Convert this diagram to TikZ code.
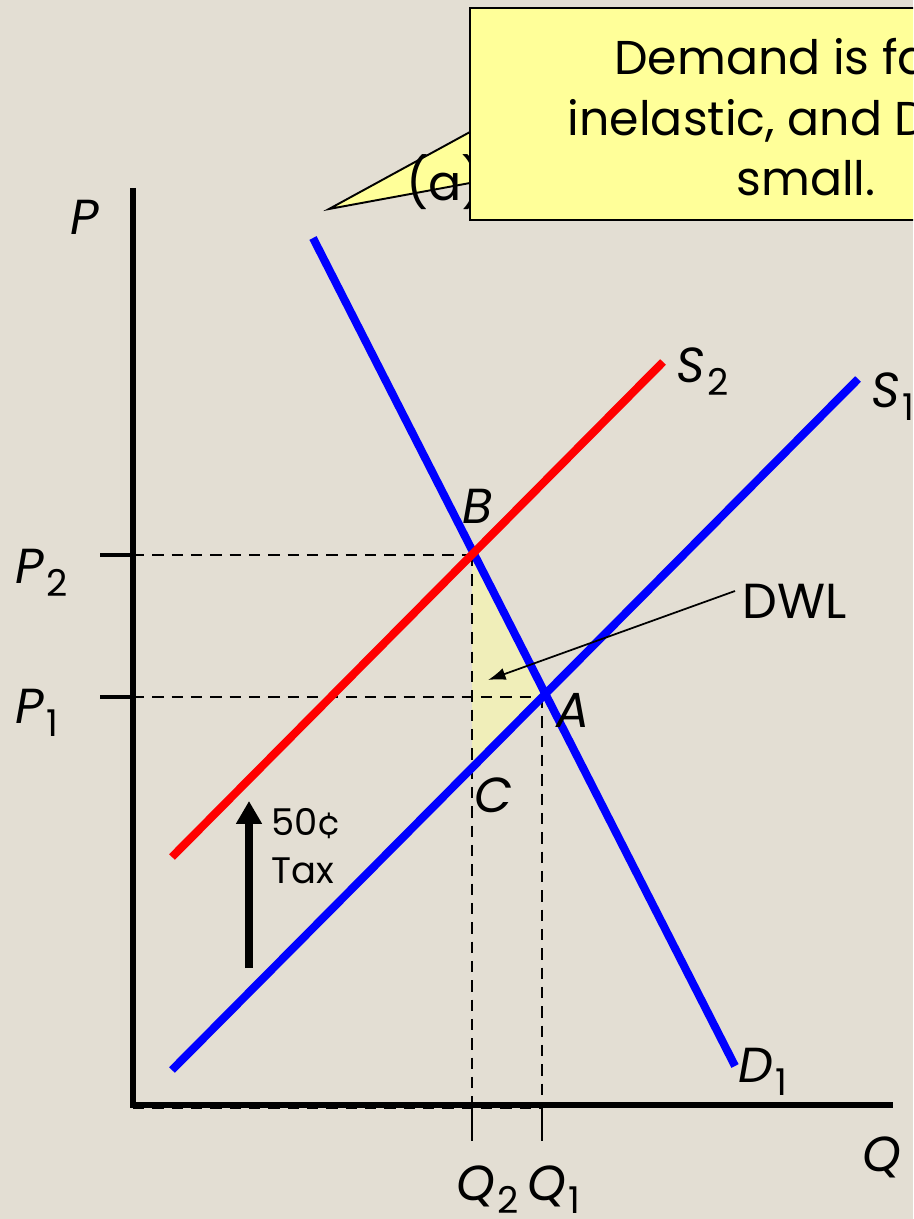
\documentclass[tikz,border=0pt]{standalone}
\usepackage{fontspec}
\setmainfont{Poppins}
\usetikzlibrary{arrows.meta}
\definecolor{bg}{RGB}{227,222,211}
\definecolor{dwl}{RGB}{240,238,185}
\definecolor{callout}{RGB}{255,255,153}
\definecolor{dblue}{RGB}{0,0,255}
\definecolor{dred}{RGB}{255,0,0}
\newcommand\subs[1]{\kern1.5pt\raisebox{-0.28em}{\fontsize{21}{23}\selectfont\upshape #1}}
\begin{document}
\begin{tikzpicture}[x=0.02cm,y=-0.02cm,
  curve/.style={line width=4.6pt},
  axis/.style={line width=3.4pt},
  tickl/.style={line width=2.3pt},
  guide/.style={line width=1.3pt,dash pattern=on 6.5pt off 4.5pt},
  lab/.style={font=\fontsize{28}{32}\selectfont\itshape,anchor=base west,inner sep=0pt},
  rlab/.style={font=\fontsize{28}{32}\selectfont,anchor=base west,inner sep=0pt},
  small/.style={font=\fontsize{21}{24}\selectfont,anchor=base west,inner sep=0pt},
  ctext/.style={font=\fontsize{27}{31}\selectfont,anchor=base,inner sep=0pt}]
\useasboundingbox (0,0) rectangle (913,1219);
\clip (0,0) rectangle (913,1219);
\fill[bg] (0,0) rectangle (913,1219);
% key points
\coordinate (O) at (133,1105);
\coordinate (Ytop) at (133,188);
\coordinate (Xend) at (893,1105);
\coordinate (B) at (472,555);
\coordinate (A) at (542,697);
\coordinate (C) at (472,769);
\coordinate (P2t) at (100,555);
\coordinate (P1t) at (100,697);
\coordinate (P2a) at (133,555);
\coordinate (P1a) at (133,697);
\coordinate (Q2a) at (472,1105);
\coordinate (Q1a) at (542,1105);
\coordinate (Q2t) at (472,1141);
\coordinate (Q1t) at (542,1141);
\coordinate (Dtop) at (313,238);
\coordinate (Dbot) at (735,1066);
\coordinate (S1a) at (172,1070);
\coordinate (S1b) at (858,379);
\coordinate (S2a) at (172,857);
\coordinate (S2b) at (663,362);
% DWL triangle
\fill[dwl] (B) -- (A) -- (C) -- cycle;
% guides
\draw[guide] (P2a) -- (B);
\draw[guide] (P1a) -- (A);
\draw[guide] (B) -- (Q2a);
\draw[guide] (A) -- (Q1a);
\draw[guide] (133,1108) -- (542,1108);
% curves
\draw[curve,dblue] (Dtop) -- (Dbot);
\draw[curve,dblue] (S1a) -- (S1b);
\draw[curve,dred] (S2a) -- (S2b);
% axes
\draw[axis] (Ytop) -- (O) -- (Xend);
\draw[tickl] (P2t) -- (P2a);
\draw[tickl] (P1t) -- (P1a);
\draw[line width=1.6pt] (Q2a) -- (Q2t);
\draw[line width=1.6pt] (Q1a) -- (Q1t);
% labels
\node[lab] (lP) at (70,235) {P};
\node[lab] (lP2) at (15,583) {P\subs{2}};
\node[lab] (lP1) at (15,723) {P\subs{1}};
\node[lab] (lB) at (462,523) {B};
\node[lab] (lA) at (556,727) {A};
\node[lab] (lC) at (474,812) {C};
\node[lab] (lS2) at (676,382) {S\subs{2}};
\node[lab] (lS1) at (871,407) {S\subs{1}};
\node[lab] (lD1) at (738,1082) {D\subs{1}};
\node[lab] (lQ) at (862,1171) {Q};
\node[lab] (lQ2) at (456,1200) {Q\subs{2}};
\node[lab] (lQ1) at (527,1200) {Q\subs{1}};
\node[rlab] (lDWL) at (742,618) {DWL};
\coordinate (dwlfrom) at (735,591);
\coordinate (dwlto) at (488,680);
\draw[line width=1pt,-{Latex[length=10pt,width=7pt]}] (dwlfrom) -- (dwlto);
% tax arrow
\coordinate (taxbot) at (249,968);
\coordinate (taxtop) at (249,801);
\draw[line width=4.4pt,-{Triangle[length=13pt,width=14pt]}] (taxbot) -- (taxtop);
\node[small] (l50) at (271,835) {50¢};
\node[small] (ltax) at (271,883) {Tax};
% callout
\fill[callout,draw=black,line width=1.1pt,line join=miter] (470,132) -- (329,209) -- (470,183);
\node[rlab] (la) at (406,201) {(a)};
\filldraw[fill=callout,draw=black,line width=1.1pt] (470,8) rectangle (1150,220);
\node[ctext] (c1) at (806,75) {Demand is fairly};
\node[ctext] (c2) at (806,136) {inelastic, and DWL is};
\node[ctext] (c3) at (806,196) {small.};
\end{tikzpicture}
\end{document}
